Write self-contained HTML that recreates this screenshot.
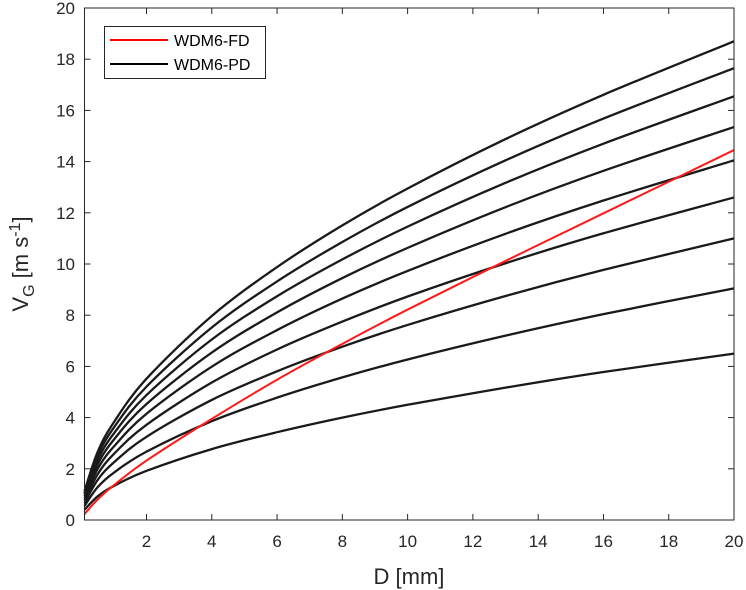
<!DOCTYPE html>
<html><head><meta charset="utf-8"><style>
body{margin:0;background:#fff;}
svg{display:block;font-family:"Liberation Sans",Arial,sans-serif;}
</style></head><body>
<svg id="chart" width="746" height="590">
<g id="plot"></g>
</svg>
<script>
const dValues=[0.1,0.5,1,2,4,6,8,10,13,16,20];
const pdSeries=[
[1.13,2.65,3.82,5.52,7.97,9.88,11.51,12.95,14.88,16.61,18.7],
[1.06,2.50,3.61,5.21,7.52,9.32,10.86,12.23,14.05,15.68,17.65],
[1.00,2.34,3.38,4.88,7.05,8.74,10.18,11.46,13.17,14.70,16.55],
[0.93,2.17,3.14,4.53,6.54,8.11,9.45,10.63,12.22,13.64,15.35],
[0.85,1.99,2.87,4.15,5.99,7.42,8.65,9.73,11.18,12.48,14.05],
[0.76,1.78,2.58,3.72,5.37,6.66,7.75,8.73,10.03,11.20,12.6],
[0.66,1.56,2.25,3.25,4.69,5.81,6.77,7.62,8.75,9.77,11.0],
[0.55,1.28,1.85,2.67,3.86,4.78,5.57,6.27,7.20,8.04,9.05],
[0.40,0.92,1.33,1.92,2.77,3.43,4.00,4.50,5.17,5.78,6.5]];
const fdSeries=[0.23,0.80,1.36,2.32,3.95,5.48,6.88,8.22,10.12,11.98,14.45];
const xTicks=[2,4,6,8,10,12,14,16,18,20];
const yTicks=[0,2,4,6,8,10,12,14,16,18,20];
const X0=84.5,X1=734,Y0=520,Y1=8,xmin=0.1,xmax=20,ymin=0,ymax=20;
const sx=v=>X0+(v-xmin)/(xmax-xmin)*(X1-X0);
const sy=v=>Y0-(v-ymin)/(ymax-ymin)*(Y0-Y1);
const NS='http://www.w3.org/2000/svg';
const svg=document.getElementById('chart');
function mk(t,a,p){const e=document.createElementNS(NS,t);for(const k in a)e.setAttribute(k,a[k]);(p||svg).appendChild(e);return e;}
function pathFor(ys){const pts=dValues.map((d,i)=>[sx(d),sy(ys[i])]);let s='M'+pts[0][0]+','+pts[0][1];
for(let i=0;i<pts.length-1;i++){const p0=pts[Math.max(i-1,0)],p1=pts[i],p2=pts[i+1],p3=pts[Math.min(i+2,pts.length-1)];
const c1=[p1[0]+(p2[0]-p0[0])/6,p1[1]+(p2[1]-p0[1])/6],c2=[p2[0]-(p3[0]-p1[0])/6,p2[1]-(p3[1]-p1[1])/6];
s+=' C'+c1+' '+c2+' '+p2;}return s;}
const plot=document.getElementById('plot');
pdSeries.forEach((ys,i)=>{const e=mk('path',{d:pathFor(ys),fill:'none',stroke:'#1a1a1a',"stroke-width":2.3},plot);

});
const r=mk('path',{d:pathFor(fdSeries),fill:'none',stroke:'#ff1a1a',"stroke-width":2},plot);


const box=mk('rect',{x:X0,y:Y1,width:X1-X0,height:Y0-Y1,fill:'none',stroke:'#262626',"stroke-width":1});


xTicks.forEach(v=>{const x=sx(v);mk('line',{x1:x,x2:x,y1:Y0,y2:Y0-6,stroke:'#262626'});mk('line',{x1:x,x2:x,y1:Y1,y2:Y1+6,stroke:'#262626'});
const t=mk('text',{x:x,y:547,"text-anchor":'middle',"font-size":17,fill:'#262626'});t.textContent=v;

});
yTicks.forEach(v=>{const y=sy(v);mk('line',{x1:X0,x2:X0+6,y1:y,y2:y,stroke:'#262626'});mk('line',{x1:X1,x2:X1-6,y1:y,y2:y,stroke:'#262626'});
const t=mk('text',{x:75,y:y+6,"text-anchor":'end',"font-size":17,fill:'#262626'});t.textContent=v;

});
</script>
<svg style="position:absolute;left:0;top:0" width="746" height="590">
<text x="409" y="584" text-anchor="middle" font-size="22" fill="#262626">D [mm]</text>
<text transform="translate(28,264) rotate(-90)" text-anchor="middle" font-size="22" fill="#262626">V<tspan font-size="16" dy="6">G</tspan><tspan dy="-6"> [m s</tspan><tspan font-size="16" dy="-8">-1</tspan><tspan dy="8">]</tspan></text>
<g>
<rect x="104.5" y="26.5" width="161" height="52" fill="#fff" stroke="#262626"/>
<line x1="110" x2="168" y1="40" y2="40" stroke="#ff0000" stroke-width="2"/>
<text x="174" y="46" font-size="16" fill="#000">WDM6-FD</text>
<line x1="110" x2="168" y1="64" y2="64" stroke="#000" stroke-width="2"/>
<text x="174" y="70" font-size="16" fill="#000">WDM6-PD</text>
</g>
</svg>
</body></html>
